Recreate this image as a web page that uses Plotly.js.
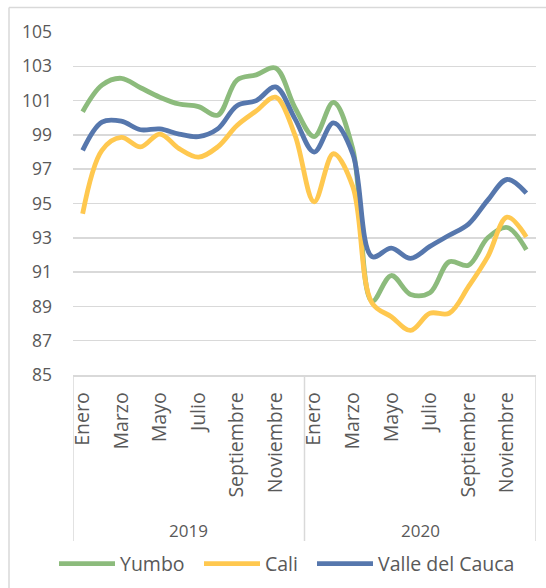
<!DOCTYPE html>
<html>
<head>
<meta charset="utf-8">
<script src="https://cdn.plot.ly/plotly-3.0.1.min.js"></script>
<style>html,body{margin:0;padding:0;background:#fff;}#chart{width:546px;height:588px;}</style>
</head>
<body>
<div id="chart"></div>
<script>
const years = ['2019', '2020'];
const months = ['Enero','Febrero','Marzo','Abril','Mayo','Junio','Julio','Agosto','Septiembre','Octubre','Noviembre','Diciembre'];
const seriesNames = ['Yumbo', 'Cali', 'Valle del Cauca'];
const yumbo = [100.35, 101.9, 102.3, 101.75, 101.2, 100.8, 100.65, 100.15, 102.2, 102.5, 102.9, 100.6,
               98.9, 100.9, 98.2, 89.3, 90.8, 89.7, 89.8, 91.6, 91.4, 93.0, 93.6, 92.3];
const cali = [94.4, 98.1, 98.85, 98.3, 99.05, 98.2, 97.7, 98.3, 99.55, 100.4, 101.2, 99.0,
              95.1, 97.9, 96.0, 89.2, 88.4, 87.6, 88.6, 88.6, 90.15, 91.9, 94.2, 93.05];
const valle = [98.1, 99.75, 99.8, 99.3, 99.35, 99.05, 98.9, 99.35, 100.7, 101.0, 101.8, 99.95,
               98.0, 99.7, 97.9, 91.9, 92.4, 91.8, 92.5, 93.15, 93.8, 95.2, 96.4, 95.6];
const colors = ['#8cbb7c', '#ffc84f', '#5677ad'];

const nM = months.length;
const xIdx = [];
const tickvals = [], ticktext = [];
years.forEach((y, k) => months.forEach((m, j) => {
  const i = k * nM + j;
  xIdx.push(i);
  if (j % 2 === 0) { tickvals.push(i); ticktext.push(m); }
}));

const FONT = 'Open Sans, sans-serif';
const GREY = '#595959';
const GRID = '#d9d9d9';

const legendIds = ['legend', 'legend2', 'legend3'];
const legendLeft = [54, 199, 312];

const traces = [yumbo, cali, valle].map((vals, s) => ({
  x: xIdx, y: vals, name: seriesNames[s], type: 'scatter', mode: 'lines',
  legend: legendIds[s],
  line: {color: colors[s], width: 4.8, shape: 'spline', smoothing: 1}
}));

const plotH = 588 - 32 - 213;
const plotW = 546 - 73 - 10;
const shapes = [];
for (let k = 0; k <= years.length; k++) {
  shapes.push({type: 'line', xref: 'x', yref: 'paper', x0: k * nM - 0.5, x1: k * nM - 0.5,
    y0: 0, y1: -(541 - 375) / plotH, line: {color: GRID, width: 1.5}});
}
// outer chart frame (top and left edges)
shapes.push({type: 'line', xref: 'paper', yref: 'paper', x0: (9 - 73) / plotW, x1: 1.1,
  y0: (375 - 7.5) / plotH, y1: (375 - 7.5) / plotH, line: {color: GRID, width: 1.5}});
shapes.push({type: 'line', xref: 'paper', yref: 'paper', x0: (9 - 73) / plotW, x1: (9 - 73) / plotW,
  y0: (375 - 7.5) / plotH, y1: -0.7, line: {color: GRID, width: 1.5}});

const annotations = years.map((y, k) => ({
  x: k * nM + (nM - 1) / 2, xref: 'x', y: -(530 - 375) / plotH, yref: 'paper',
  text: y, showarrow: false, xanchor: 'center', yanchor: 'middle',
  font: {family: FONT, size: 17, color: GREY}
}));

const layout = {
  width: 546, height: 588,
  margin: {l: 73, r: 10, t: 32, b: 213},
  paper_bgcolor: '#ffffff', plot_bgcolor: '#ffffff',
  showlegend: true,
  xaxis: {range: [-0.5, xIdx.length - 0.5], tickmode: 'array', tickvals: tickvals, ticktext: ticktext,
    tickangle: -90, showgrid: false, zeroline: false, showline: true, linecolor: GRID, linewidth: 1.5,
    ticks: '', ticklabelstandoff: 8, tickfont: {family: FONT, size: 19.5, color: GREY}, fixedrange: true},
  yaxis: {range: [85, 105], tick0: 85, dtick: 2, showgrid: true, gridcolor: GRID, gridwidth: 1.5,
    zeroline: false, showline: false, ticks: '', ticklabelstandoff: 20,
    tickfont: {family: FONT, size: 17.5, color: GREY}, fixedrange: true},
  shapes: shapes,
  annotations: annotations,
  hovermode: false
};
legendIds.forEach((id, s) => {
  layout[id] = {orientation: 'h', xref: 'container', yref: 'container', x: legendLeft[s] / 546,
    y: (588 - 564) / 588, xanchor: 'left', yanchor: 'middle', itemwidth: 56,
    font: {family: FONT, size: 19.5, color: GREY}, bgcolor: 'rgba(0,0,0,0)'};
});

Plotly.newPlot('chart', traces, layout, {displayModeBar: false, staticPlot: true});
</script>
</body>
</html>
